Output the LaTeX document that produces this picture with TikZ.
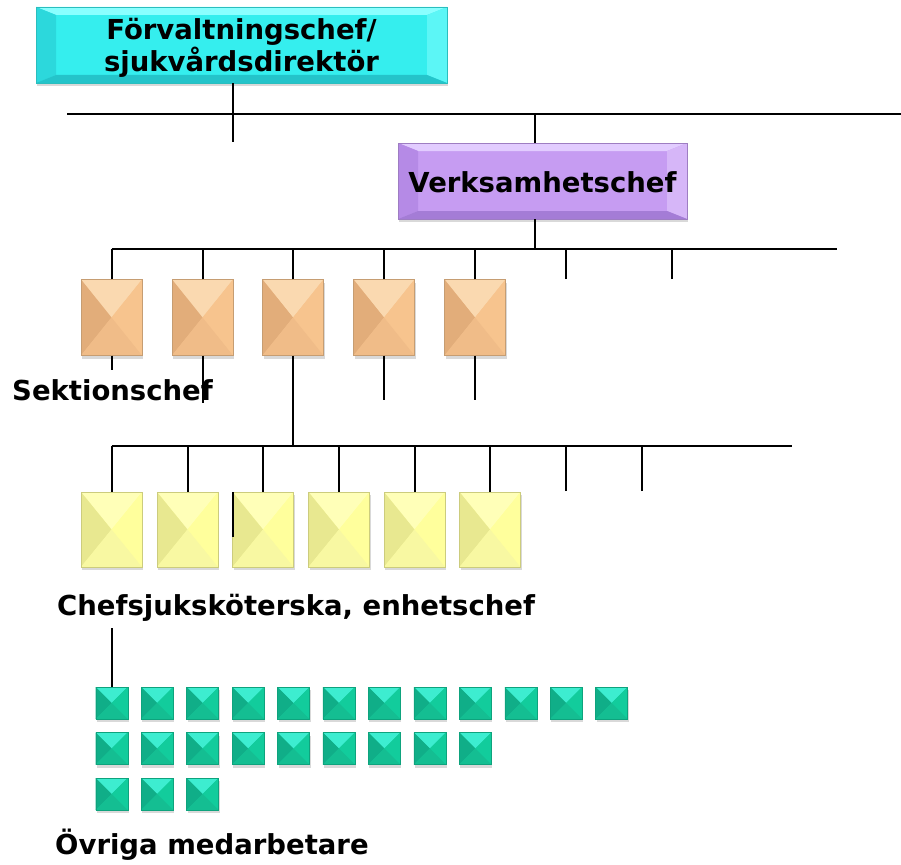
\documentclass[tikz,border=0pt]{standalone}
\usepackage{fontspec}
\setmainfont{DejaVu Sans}
\usetikzlibrary{shadows}
\definecolor{cyB}{HTML}{35EEEE}\definecolor{cyT}{HTML}{8AFFFF}\definecolor{cyL}{HTML}{2CD8DC}\definecolor{cyR}{HTML}{5CF6F6}\definecolor{cyD}{HTML}{24C4CA}
\definecolor{puB}{HTML}{C69CF2}\definecolor{puT}{HTML}{E2CCFF}\definecolor{puL}{HTML}{B58AE6}\definecolor{puR}{HTML}{D6B6F8}\definecolor{puD}{HTML}{A47CD6}
\definecolor{orB}{HTML}{F7C48E}\definecolor{orT}{HTML}{FAD9B0}\definecolor{orL}{HTML}{E2AD7A}\definecolor{orR}{HTML}{F7C48E}\definecolor{orD}{HTML}{F0BC88}
\definecolor{yeB}{HTML}{FFFF9C}\definecolor{yeT}{HTML}{FFFFB8}\definecolor{yeL}{HTML}{E8E890}\definecolor{yeR}{HTML}{FFFF9C}\definecolor{yeD}{HTML}{F8F8A2}
\definecolor{teB}{HTML}{12CC9C}\definecolor{teT}{HTML}{3DEDD0}\definecolor{teL}{HTML}{10AE88}\definecolor{teR}{HTML}{12CC9C}\definecolor{teD}{HTML}{14BE92}
\begin{document}
\begin{tikzpicture}[x=1pt,y=-1pt,
  conn/.style={line width=2pt, black},
  lbl/.style={font=\fontsize{27.5}{32}\selectfont\bfseries, anchor=base west, inner sep=0pt},
  pyr/.style n args={5}{draw=#1!80!black, line width=0.4pt, fill=#1, inner sep=0pt,
    drop shadow={opacity=0.3, shadow xshift=1pt, shadow yshift=-3pt},
    path picture={
      \fill[#2] (path picture bounding box.north west) -- (path picture bounding box.north east) -- (path picture bounding box.center) -- cycle;
      \fill[#3] (path picture bounding box.north west) -- (path picture bounding box.south west) -- (path picture bounding box.center) -- cycle;
      \fill[#4] (path picture bounding box.north east) -- (path picture bounding box.south east) -- (path picture bounding box.center) -- cycle;
      \fill[#5] (path picture bounding box.south west) -- (path picture bounding box.south east) -- (path picture bounding box.center) -- cycle;
    }},
  bev/.style n args={5}{draw=#1!80!black, line width=0.4pt, fill=#1, inner sep=0pt, align=center,
    font=\fontsize{27.5}{32}\selectfont\bfseries,
    drop shadow={opacity=0.3, shadow xshift=1pt, shadow yshift=-3pt},
    path picture={
      \coordinate (qa) at (path picture bounding box.north west);
      \coordinate (qb) at (path picture bounding box.north east);
      \coordinate (qc) at (path picture bounding box.south east);
      \coordinate (qd) at (path picture bounding box.south west);
      \coordinate (ia) at ([xshift=20pt,yshift=-8pt]qa);
      \coordinate (ib) at ([xshift=-20pt,yshift=-8pt]qb);
      \coordinate (ic) at ([xshift=-20pt,yshift=8pt]qc);
      \coordinate (id) at ([xshift=20pt,yshift=8pt]qd);
      \fill[#2] (qa) -- (qb) -- (ib) -- (ia) -- cycle;
      \fill[#3] (qa) -- (ia) -- (id) -- (qd) -- cycle;
      \fill[#4] (qb) -- (ib) -- (ic) -- (qc) -- cycle;
      \fill[#5] (qd) -- (id) -- (ic) -- (qc) -- cycle;
    }},
  orbox/.style={pyr={orB}{orT}{orL}{orR}{orD}, minimum width=61pt, minimum height=76pt},
  yebox/.style={pyr={yeB}{yeT}{yeL}{yeR}{yeD}, minimum width=61pt, minimum height=75pt},
  tebox/.style={pyr={teB}{teT}{teL}{teR}{teD}, minimum width=32pt, minimum height=32pt}
]
\useasboundingbox (0,0) rectangle (901,864);

% coordinates for buses and stubs
\coordinate (a1) at (233,142);
\coordinate (b1L) at (67,114);  \coordinate (b1R) at (901,114);
\coordinate (b2L) at (111.5,249); \coordinate (b2R) at (837,249);
\coordinate (b3L) at (111.5,445.5); \coordinate (b3R) at (792,445.5);

% boxes
\node[bev={cyB}{cyT}{cyL}{cyR}{cyD}, minimum width=411pt, minimum height=76pt] (top) at (241.5,45)
  {\rule{0pt}{27pt}Förvaltningschef/\\[0pt]sjukvårdsdirektör};
\node[bev={puB}{puT}{puL}{puR}{puD}, minimum width=289pt, minimum height=76pt] (vc) at (542.5,181)
  {\rule{0pt}{24pt}Verksamhetschef};

\foreach \i/\x in {1/111.5,2/202.5,3/293,4/384,5/475}
  \node[orbox] (s\i) at (\x,317.5) {};
\foreach \i/\x in {1/111.5,2/187.5,3/263,4/339,5/414.5,6/490}
  \node[yebox] (c\i) at (\x,529.5) {};

\foreach \c in {1,...,12}
  \node[tebox] (m1-\c) at ({111.7+45.45*(\c-1)},703) {};
\foreach \c in {1,...,9}
  \node[tebox] (m2-\c) at ({111.7+45.45*(\c-1)},748.5) {};
\foreach \c in {1,...,3}
  \node[tebox] (m3-\c) at ({111.7+45.45*(\c-1)},794) {};

% connectors
\draw[conn] (top.south -| a1) -- (a1);
\draw[conn] (b1L) -- (b1R);
\draw[conn] (vc.north -| 535,0) -- (535,114);
\draw[conn] (vc.south -| 535,0) -- (535,249);
\draw[conn] (b2L) -- (b2R);
\foreach \i in {1,...,5} \draw[conn] (s\i.north) -- (s\i.north |- b2L);
\coordinate (st1) at (566,279); \coordinate (st2) at (671.5,279);
\draw[conn] (st1) -- (st1 |- b2L);
\draw[conn] (st2) -- (st2 |- b2L);
\coordinate (d1) at (111.5,370); \coordinate (d2) at (202.5,403);
\coordinate (d4) at (384,400); \coordinate (d5) at (475,400);
\draw[conn] (s1.south) -- (d1);
\draw[conn] (s2.south) -- (d2);
\draw[conn] (s4.south) -- (d4);
\draw[conn] (s5.south) -- (d5);
\draw[conn] (s3.south) -- (s3.south |- b3L);
\draw[conn] (b3L) -- (b3R);
\foreach \i in {1,...,6} \draw[conn] (c\i.north) -- (c\i.north |- b3L);
\coordinate (st3) at (566,491); \coordinate (st4) at (641.5,491);
\draw[conn] (st3) -- (st3 |- b3L);
\draw[conn] (st4) -- (st4 |- b3L);
\coordinate (e1) at (233,492); \coordinate (e2) at (233,537);
\draw[conn] (e1) -- (e2);
\coordinate (f1) at (111.7,628);
\draw[conn] (f1) -- (m1-1.north);

% labels
\node[lbl] (lsek) at (12,400) {Sektionschef};
\node[lbl] (lchef) at (57,615) {Chefsjuksköterska, enhetschef};
\node[lbl] (lovr) at (55,854) {Övriga medarbetare};
\end{tikzpicture}
\end{document}
